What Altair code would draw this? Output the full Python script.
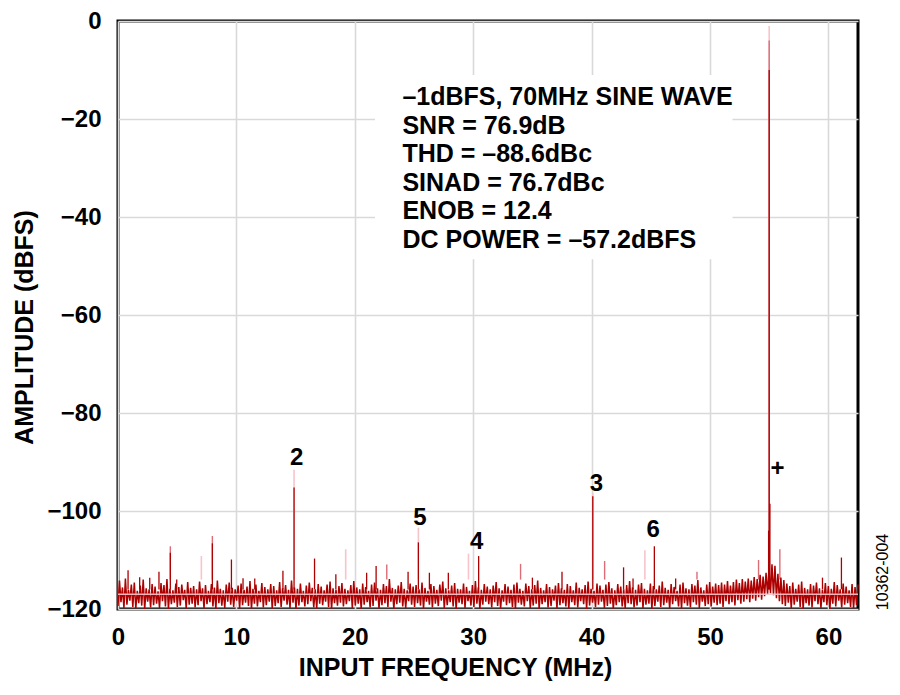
import numpy as np
import pandas as pd
import altair as alt

FONT = "Liberation Sans"
DARK = "#ad0000"
MID = "#dc6c76"
PINK = "#f8c4cc"

NYQUIST = 62.5

# noise floor: upper and lower excursion per 0.25 MHz bin
NOISE_HI = [
    -114.2, -115.6, -113.8, -116.1, -115.0, -114.6, -116.3, -115.2, -114.0, -115.8, -116.0, -114.9, -115.4,
    -116.4, -114.7, -115.1, -113.9, -115.9, -116.2, -114.8, -115.5, -115.0, -116.1, -114.5, -115.7,
    -115.3, -116.0, -114.4, -115.8, -115.1, -116.3, -114.9, -115.6, -114.2, -115.9, -116.2, -115.0, -114.6,
    -115.7, -116.0, -115.2, -114.8, -116.1, -115.4, -114.3, -115.9, -115.0, -116.3, -114.7, -115.5,
    -116.0, -114.9, -115.3, -116.2, -114.5, -115.8, -115.1, -116.1, -114.2, -115.6, -115.9, -114.8, -116.3,
    -115.2, -114.6, -115.7, -116.0, -114.9, -115.4, -116.2, -115.0, -114.4, -115.8, -116.1, -115.3,
    -114.7, -115.9, -116.2, -115.1, -114.3, -115.6, -116.0, -114.8, -115.5, -116.3, -115.0, -114.6, -115.8,
    -116.1, -114.9, -115.3, -113.9, -115.7, -116.0, -115.2, -114.5, -115.9, -116.2, -114.8, -115.4,
    -115.1, -116.0, -114.6, -115.7, -116.3, -114.9, -115.3, -116.1, -115.0, -114.4, -115.8, -116.2, -115.2,
    -114.7, -115.9, -116.0, -114.8, -115.5, -116.3, -115.1, -114.3, -115.6, -116.1, -114.9, -115.4,
    -116.0, -115.2, -114.5, -115.8, -116.2, -114.9, -115.4, -116.1, -115.0, -114.6, -115.9, -116.3, -114.8,
    -115.3, -116.0, -115.1, -114.2, -115.7, -116.2, -114.9, -115.5, -116.0, -115.2, -114.7, -115.8,
    -116.1, -114.9, -115.3, -116.2, -114.6, -115.7, -116.0, -115.1, -114.4, -115.9, -116.3, -114.8, -115.2,
    -116.1, -115.0, -114.5, -115.8, -116.2, -114.9, -115.4, -116.0, -115.1, -114.3, -115.6, -116.1,
    -115.0, -114.7, -115.9, -116.2, -114.8, -115.3, -116.0, -115.2, -114.4, -115.7, -116.1, -114.9, -115.5,
    -116.3, -115.0, -114.6, -115.8, -116.0, -114.9, -115.2, -114.1, -115.6, -116.2, -115.0, -114.5,
    -115.4, -114.8, -115.1, -114.6, -115.0, -114.3, -115.2, -114.5, -114.0, -114.7, -113.9, -114.4, -113.8,
    -114.2, -113.5, -113.9, -113.0, -113.4, -112.6, -111.8, -110.9, -111.2, -112.8, -113.6, -114.1,
    -114.8, -115.3, -114.6, -115.9, -115.0, -114.4, -115.7, -116.0, -114.9, -115.2, -114.6, -115.8, -116.1,
    -114.7, -115.3, -115.9, -114.5, -115.1, -116.0, -114.8, -115.4, -116.2, -114.9, -115.5, -115.0,
]
NOISE_LO = [
    -119.4, -118.6, -119.8, -119.1, -118.3, -119.6, -119.9, -118.8, -119.3, -120.0, -118.5, -119.7, -119.2,
    -118.9, -119.8, -118.4, -119.5, -120.0, -119.0, -118.7, -119.6, -119.3, -118.2, -119.9, -119.1,
    -118.9, -119.7, -119.2, -118.4, -119.9, -119.0, -118.6, -119.5, -120.0, -118.8, -119.3, -119.8, -118.5,
    -119.1, -119.6, -118.3, -119.9, -119.2, -118.7, -119.4, -120.0, -118.9, -119.5, -118.6, -119.7,
    -119.2, -118.5, -119.9, -119.4, -118.8, -119.6, -118.3, -119.1, -119.8, -118.7, -120.0, -119.3, -118.6,
    -119.5, -119.0, -118.4, -119.7, -119.9, -118.9, -119.2, -118.5, -119.6, -120.0, -118.8, -119.3,
    -118.7, -119.5, -119.0, -118.4, -119.8, -119.3, -118.9, -120.0, -119.1, -118.6, -119.7, -119.4, -118.3,
    -119.9, -119.2, -118.8, -119.6, -118.5, -120.0, -119.0, -118.7, -119.5, -119.8, -118.4, -119.1,
    -119.6, -118.8, -119.3, -120.0, -118.5, -119.1, -119.7, -118.9, -119.4, -118.3, -119.9, -119.2, -118.6,
    -119.5, -120.0, -118.7, -119.0, -119.8, -118.4, -119.3, -119.6, -118.9, -120.0, -119.1, -118.5,
    -119.0, -119.7, -118.6, -119.4, -119.9, -118.5, -119.2, -118.8, -119.6, -120.0, -118.7, -119.1, -119.5,
    -118.4, -119.8, -119.3, -118.9, -120.0, -119.0, -118.6, -119.7, -119.4, -118.3, -119.9, -119.2,
    -118.8, -119.5, -119.9, -118.6, -119.2, -119.7, -118.4, -119.0, -120.0, -119.3, -118.7, -119.6, -119.1,
    -118.5, -119.8, -119.4, -118.9, -120.0, -119.2, -118.6, -119.5, -119.9, -118.8, -119.0, -119.7,
    -119.3, -118.6, -119.8, -119.1, -118.9, -120.0, -119.4, -118.5, -119.6, -119.2, -118.7, -119.9, -119.0,
    -118.4, -119.5, -120.0, -118.8, -119.3, -119.7, -118.6, -119.1, -119.8, -118.5, -119.4, -119.0,
    -119.5, -118.7, -119.2, -118.9, -119.6, -118.4, -119.0, -118.6, -119.3, -118.2, -118.9, -118.5, -118.0,
    -118.6, -117.9, -118.3, -117.6, -118.1, -117.4, -117.0, -116.8, -117.2, -117.8, -118.4, -119.0,
    -119.4, -118.7, -119.9, -119.1, -118.5, -119.6, -120.0, -118.8, -119.3, -119.7, -118.4, -119.0, -119.8,
    -118.6, -119.2, -120.0, -118.9, -119.5, -118.3, -119.7, -119.1, -118.8, -119.6, -119.9, -119.2,
]

# spurs, harmonics and the fundamental
SPUR_FREQ = [0.85, 1.83, 2.68, 3.46, 4.42, 4.42, 4.96, 7.04, 7.97, 7.97, 9.58, 10.56, 11.55, 13.93,
             14.87, 14.87, 16.6, 18.4, 19.23, 21.0, 21.8, 22.7, 24.5, 25.37, 25.37, 26.3, 27.9,
             29.6, 30.46, 34.0, 35.0, 37.5, 40.1, 40.1, 41.1, 42.7, 43.5, 44.5, 45.3, 47.1, 48.9,
             54.1, 54.95, 55.0, 55.0, 55.0, 55.06, 55.9, 59.5, 61.1]
SPUR_TOP = [-112.1, -113.5, -113.6, -112.4, -108.5, -107.2, -114.0, -109.2, -106.6, -105.1, -109.9,
            -113.7, -113.8, -112.2, -95.2, -91.6, -109.7, -112.9, -107.8, -112.6, -111.2, -110.9,
            -112.4, -106.4, -103.4, -112.6, -112.6, -108.7, -109.2, -110.8, -113.6, -112.4, -97.0,
            -96.3, -110.2, -111.5, -113.8, -108.0, -107.2, -113.8, -112.4, -110.0, -104.0, -10.0,
            -4.0, -1.0, -98.5, -107.8, -113.6, -109.5]
SPUR_KIND = ["dark", "dark", "dark", "dark", "dark", "mid", "dark", "pink", "dark", "mid", "dark",
             "dark", "dark", "dark", "dark", "pink", "dark", "dark", "pink", "dark", "dark", "mid",
             "dark", "dark", "pink", "dark", "dark", "pink", "dark", "mid", "dark", "dark", "dark",
             "pink", "mid", "dark", "dark", "pink", "dark", "dark", "mid", "mid", "dark", "dark",
             "mid", "pink", "dark", "mid", "dark", "dark"]

HARM_LABEL = ["2", "5", "4", "3", "6", "+"]
HARM_FREQ = [15.1, 25.5, 30.3, 40.4, 45.2, 55.7]
HARM_LEVEL = [-89.1, -101.5, -106.4, -94.4, -103.9, -91.5]

INFO_LINES = [
    "\u20131dBFS, 70MHz SINE WAVE",
    "SNR = 76.9dB",
    "THD = \u201388.6dBc",
    "SINAD = 76.7dBc",
    "ENOB = 12.4",
    "DC POWER = \u201357.2dBFS",
]

# white backing behind the text block (MHz, dBFS)
BOX = {"x0": 21.7, "x1": 51.9, "y0": -11.0, "y1": -48.6}

xs = alt.Scale(domain=[0, NYQUIST], nice=False, zero=False)
ys = alt.Scale(domain=[-120, 0], nice=False, zero=False)
x_axis = alt.Axis(values=[0, 10, 20, 30, 40, 50, 60], labelPadding=16, labelFlush=False,
                  titleX=337, titleY=66, titleBaseline="alphabetic", titleAlign="center")
y_axis = alt.Axis(values=[-120, -100, -80, -60, -40, -20, 0], labelPadding=17, labelFlush=False,
                  titleAngle=270, titleX=-94, titleY=306, titleAlign="center", titleBaseline="middle")


def X(field):
    return alt.X(field, scale=xs, axis=x_axis, title="INPUT FREQUENCY (MHz)")


def Y(field):
    return alt.Y(field, scale=ys, axis=y_axis, title="AMPLITUDE (dBFS)")


noise = pd.DataFrame({
    "freq": np.linspace(0, NYQUIST, 2 * len(NOISE_HI)),
    "level": [v for pair in zip(NOISE_LO, NOISE_HI) for v in pair],
})
spurs = pd.DataFrame({"freq": SPUR_FREQ, "top": SPUR_TOP, "kind": SPUR_KIND})
spurs["base"] = np.where(spurs["kind"] == "dark", -116.0, -114.0)
harm = pd.DataFrame({"freq": HARM_FREQ, "level": HARM_LEVEL, "label": HARM_LABEL})
box = pd.DataFrame([BOX])

box_layer = alt.Chart(box).mark_rect(color="white").encode(
    x=X("x0:Q"), x2="x1:Q", y=Y("y0:Q"), y2="y1:Q"
)


def spur_layer(kind, color, width):
    return alt.Chart(spurs).transform_filter(alt.datum.kind == kind).mark_rule(
        color=color, strokeWidth=width
    ).encode(x=X("freq:Q"), y=Y("base:Q"), y2="top:Q")


noise_layer = alt.Chart(noise).mark_line(color=DARK, strokeWidth=1.5).encode(
    x=X("freq:Q"), y=Y("level:Q"), order="freq:Q"
)

floor_line = alt.Chart(pd.DataFrame({"level": [-117.0]})).mark_rule(
    color=PINK, strokeWidth=1.5, opacity=0.9
).encode(y=Y("level:Q"))

harm_text = alt.Chart(harm).mark_text(
    font=FONT, fontSize=24, fontWeight="bold", color="black", align="center", baseline="middle"
).encode(x=X("freq:Q"), y=Y("level:Q"), text="label:N")

info_text = alt.Chart(box).mark_text(
    font=FONT, fontSize=25, fontWeight="bold", color="black", align="left",
    baseline="alphabetic", lineHeight=28.5
).encode(x=alt.value(284.4), y=alt.value(84), text=alt.value(INFO_LINES))

fig_id = alt.Chart(box).mark_text(
    font=FONT, fontSize=16, color="black", angle=270, align="center", baseline="middle"
).encode(x=alt.value(764.7), y=alt.value(551), text=alt.value("10362-004"))

chart = alt.layer(
    box_layer,
    spur_layer("pink", PINK, 1.6),
    spur_layer("mid", MID, 1.4),
    noise_layer,
    spur_layer("dark", DARK, 1.3),
    floor_line,
    harm_text,
    info_text,
    fig_id,
).properties(
    width=740,
    height=588,
    autosize=alt.AutoSizeParams(type="none"),
    padding={"left": 110, "top": 13, "right": 34, "bottom": 76},
    background="white",
).configure_view(
    stroke="black", strokeWidth=3
).configure_axis(
    labelFont=FONT, labelFontSize=24, labelFontWeight="bold", labelColor="black",
    titleFont=FONT, titleFontSize=25, titleFontWeight="bold", titleColor="black",
    gridColor="#d9d9d9", gridWidth=1.6, domain=False, ticks=False
)

chart.save("out.html", embed_options={"renderer": "svg", "actions": False})
